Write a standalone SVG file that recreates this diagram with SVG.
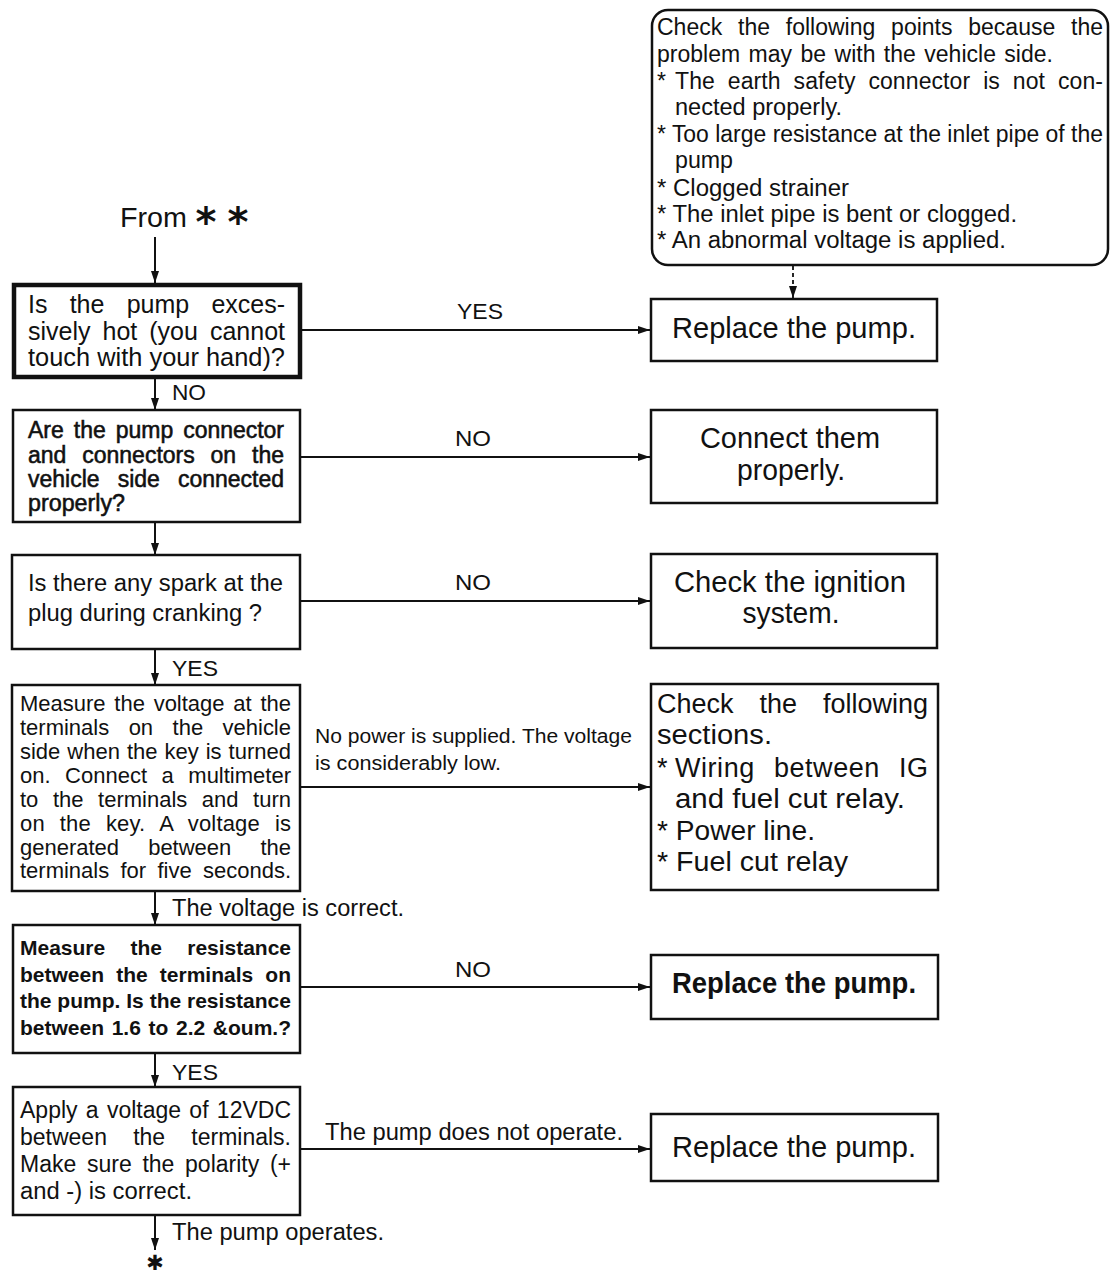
<svg xmlns="http://www.w3.org/2000/svg" width="1110" height="1274" viewBox="0 0 1110 1274">
<defs>
<marker id="ah" viewBox="0 0 12 8" refX="12" refY="4" markerWidth="12" markerHeight="8" markerUnits="userSpaceOnUse" orient="auto">
<path d="M0,0 L12,4 L0,8 Z" fill="#111"/>
</marker>
</defs>
<style>
text{font-family:"Liberation Sans",Arial,sans-serif;fill:#111}
.box{fill:#fff;stroke:#111;stroke-width:2.5}
.thick{fill:#fff;stroke:#111;stroke-width:4.5}
.ln{fill:none;stroke:#111;stroke-width:2;marker-end:url(#ah)}
.dash{fill:none;stroke:#111;stroke-width:1.8;stroke-dasharray:4 3;marker-end:url(#ah)}
.c{text-anchor:middle}
.b{font-weight:bold}
.m{stroke:#111;stroke-width:0.55}
.ast{font-family:"DejaVu Sans",sans-serif;font-weight:bold;text-anchor:middle}
</style>
<rect width="1110" height="1274" fill="#fff"/>

<g id="connectors">
<path class="ln" d="M155,237 V283"/>
<path class="ln" d="M155,379 V410"/>
<path class="ln" d="M155,522 V555"/>
<path class="ln" d="M155,649 V685"/>
<path class="ln" d="M155,891 V925"/>
<path class="ln" d="M155,1053 V1087"/>
<path class="ln" d="M155,1215 V1250"/>
<path class="ln" d="M302,330 H650"/>
<path class="ln" d="M300,457 H650"/>
<path class="ln" d="M300,601 H650"/>
<path class="ln" d="M300,787 H650"/>
<path class="ln" d="M300,987 H650"/>
<path class="ln" d="M300,1149 H650"/>
<path class="dash" d="M793,266 V298"/>
<text x="172" y="400" font-size="22" textLength="34" lengthAdjust="spacingAndGlyphs">NO</text>
<text x="172" y="676" font-size="22" textLength="46" lengthAdjust="spacingAndGlyphs">YES</text>
<text x="172" y="916" font-size="23" textLength="232" lengthAdjust="spacingAndGlyphs">The voltage is correct.</text>
<text x="172" y="1080" font-size="22" textLength="46" lengthAdjust="spacingAndGlyphs">YES</text>
<text x="172" y="1240" font-size="23" textLength="212" lengthAdjust="spacingAndGlyphs">The pump operates.</text>
<text x="457" y="319" font-size="22" textLength="46" lengthAdjust="spacingAndGlyphs">YES</text>
<text x="455" y="446" font-size="22" textLength="36" lengthAdjust="spacingAndGlyphs">NO</text>
<text x="455" y="590" font-size="22" textLength="36" lengthAdjust="spacingAndGlyphs">NO</text>
<text x="315" y="743" font-size="20" textLength="317" lengthAdjust="spacingAndGlyphs">No power is supplied. The voltage</text>
<text x="315" y="770" font-size="20" textLength="186" lengthAdjust="spacingAndGlyphs">is considerably low.</text>
<text x="455" y="977" font-size="22" textLength="36" lengthAdjust="spacingAndGlyphs">NO</text>
<text x="325" y="1140" font-size="23" textLength="298" lengthAdjust="spacingAndGlyphs">The pump does not operate.</text>
</g>

<g id="start">
<text x="120" y="227" font-size="28" textLength="67" lengthAdjust="spacingAndGlyphs">From</text>
<text x="206" y="236" font-size="40" class="ast">*</text>
<text x="238" y="236" font-size="40" class="ast">*</text>
</g>

<g id="end">
<text x="155" y="1270" font-size="21" class="ast">✱</text>
</g>

<g id="note">
<rect class="box" x="652" y="10" width="456" height="255" rx="16"/>
<text font-size="23">
<tspan x="657" y="35" word-spacing="9.4" textLength="446">Check the following points because the</tspan>
<tspan x="657" y="62" word-spacing="2" textLength="396">problem may be with the vehicle side.</tspan>
<tspan x="657" y="89">*</tspan><tspan x="675" y="89" word-spacing="6.4" textLength="428">The earth safety connector is not con-</tspan>
<tspan x="675" y="115" textLength="167" lengthAdjust="spacingAndGlyphs">nected properly.</tspan>
<tspan x="657" y="142" textLength="446" lengthAdjust="spacingAndGlyphs">* Too large resistance at the inlet pipe of the</tspan>
<tspan x="675" y="168" textLength="58" lengthAdjust="spacingAndGlyphs">pump</tspan>
<tspan x="657" y="196" textLength="192" lengthAdjust="spacingAndGlyphs">* Clogged strainer</tspan>
<tspan x="657" y="222" textLength="360" lengthAdjust="spacingAndGlyphs">* The inlet pipe is bent or clogged.</tspan>
<tspan x="657" y="248" textLength="349" lengthAdjust="spacingAndGlyphs">* An abnormal voltage is applied.</tspan>
</text>
</g>

<g id="q1">
<rect class="thick" x="14" y="285" width="286" height="92"/>
<text font-size="25">
<tspan x="28" y="313" word-spacing="15.3" textLength="257">Is the pump exces-</tspan>
<tspan x="28" y="340" word-spacing="5" textLength="257">sively hot (you cannot</tspan>
<tspan x="28" y="366" textLength="257" lengthAdjust="spacingAndGlyphs">touch with your hand)?</tspan>
</text>
</g>

<g id="r1">
<rect class="box" x="651" y="299" width="286" height="62"/>
<text x="794" y="338" font-size="29" class="c" textLength="244" lengthAdjust="spacingAndGlyphs">Replace the pump.</text>
</g>

<g id="q2">
<rect class="box" x="13" y="410" width="287" height="112"/>
<text font-size="23" class="m">
<tspan x="28" y="438" word-spacing="3.7" textLength="256">Are the pump connector</tspan>
<tspan x="28" y="463" word-spacing="9.5" textLength="256">and connectors on the</tspan>
<tspan x="28" y="487" word-spacing="11.7" textLength="256">vehicle side connected</tspan>
<tspan x="28" y="511" textLength="97" lengthAdjust="spacingAndGlyphs">properly?</tspan>
</text>
</g>

<g id="r2">
<rect class="box" x="651" y="410" width="286" height="93"/>
<text font-size="29" class="c">
<tspan x="794" y="448" textLength="180" lengthAdjust="spacingAndGlyphs">Connect them</tspan>
<tspan x="791" y="480" textLength="108" lengthAdjust="spacingAndGlyphs">properly.</tspan>
</text>
</g>

<g id="q3">
<rect class="box" x="12" y="555" width="288" height="94"/>
<text font-size="23">
<tspan x="28" y="591" textLength="255" lengthAdjust="spacingAndGlyphs">Is there any spark at the</tspan>
<tspan x="28" y="621" textLength="234" lengthAdjust="spacingAndGlyphs">plug during cranking ?</tspan>
</text>
</g>

<g id="r3">
<rect class="box" x="651" y="554" width="286" height="94"/>
<text font-size="29" class="c">
<tspan x="794" y="592" textLength="232" lengthAdjust="spacingAndGlyphs">Check the ignition</tspan>
<tspan x="791" y="623" textLength="97" lengthAdjust="spacingAndGlyphs">system.</tspan>
</text>
</g>

<g id="q4">
<rect class="box" x="12" y="685" width="288" height="206"/>
<text font-size="22">
<tspan x="20" y="711" word-spacing="2.6" textLength="271">Measure the voltage at the</tspan>
<tspan x="20" y="735" word-spacing="13.3" textLength="271">terminals on the vehicle</tspan>
<tspan x="20" y="759" word-spacing="0.9" textLength="271">side when the key is turned</tspan>
<tspan x="20" y="783" word-spacing="8.4" textLength="271">on. Connect a multimeter</tspan>
<tspan x="20" y="807" word-spacing="8.4" textLength="271">to the terminals and turn</tspan>
<tspan x="20" y="831" word-spacing="8.7" textLength="271">on the key. A voltage is</tspan>
<tspan x="20" y="855" word-spacing="23" textLength="271">generated between the</tspan>
<tspan x="20" y="878" word-spacing="5.2" textLength="271">terminals for five seconds.</tspan>
</text>
</g>

<g id="r4">
<rect class="box" x="651" y="684" width="287" height="206"/>
<text font-size="27">
<tspan x="657" y="713" word-spacing="18.5" textLength="271">Check the following</tspan>
<tspan x="657" y="744" textLength="115" lengthAdjust="spacingAndGlyphs">sections.</tspan>
<tspan x="657" y="777">*</tspan><tspan x="675" y="777" word-spacing="11" textLength="253">Wiring between IG</tspan>
<tspan x="675" y="808" textLength="230" lengthAdjust="spacingAndGlyphs">and fuel cut relay.</tspan>
<tspan x="657" y="840" textLength="158" lengthAdjust="spacingAndGlyphs">* Power line.</tspan>
<tspan x="657" y="871" textLength="191" lengthAdjust="spacingAndGlyphs">* Fuel cut relay</tspan>
</text>
</g>

<g id="q5">
<rect class="box" x="13" y="925" width="287" height="128"/>
<text font-size="21" class="b">
<tspan x="20" y="955" word-spacing="19.5" textLength="271">Measure the resistance</tspan>
<tspan x="20" y="982" word-spacing="6.3" textLength="271">between the terminals on</tspan>
<tspan x="20" y="1008" textLength="271" lengthAdjust="spacingAndGlyphs">the pump. Is the resistance</tspan>
<tspan x="20" y="1035" word-spacing="1.8" textLength="271">between 1.6 to 2.2 &amp;oum.?</tspan>
</text>
</g>

<g id="r5">
<rect class="box" x="651" y="955" width="287" height="64"/>
<text x="794" y="993" font-size="29" class="c b" textLength="244" lengthAdjust="spacingAndGlyphs">Replace the pump.</text>
</g>

<g id="q6">
<rect class="box" x="13" y="1087" width="287" height="128"/>
<text font-size="23">
<tspan x="20" y="1118" word-spacing="1.9" textLength="271">Apply a voltage of 12VDC</tspan>
<tspan x="20" y="1145" word-spacing="19.8" textLength="271">between the terminals.</tspan>
<tspan x="20" y="1172" word-spacing="4.3" textLength="271">Make sure the polarity (+</tspan>
<tspan x="20" y="1199" textLength="172" lengthAdjust="spacingAndGlyphs">and -) is correct.</tspan>
</text>
</g>

<g id="r6">
<rect class="box" x="651" y="1114" width="287" height="67"/>
<text x="794" y="1157" font-size="29" class="c" textLength="244" lengthAdjust="spacingAndGlyphs">Replace the pump.</text>
</g>
</svg>
